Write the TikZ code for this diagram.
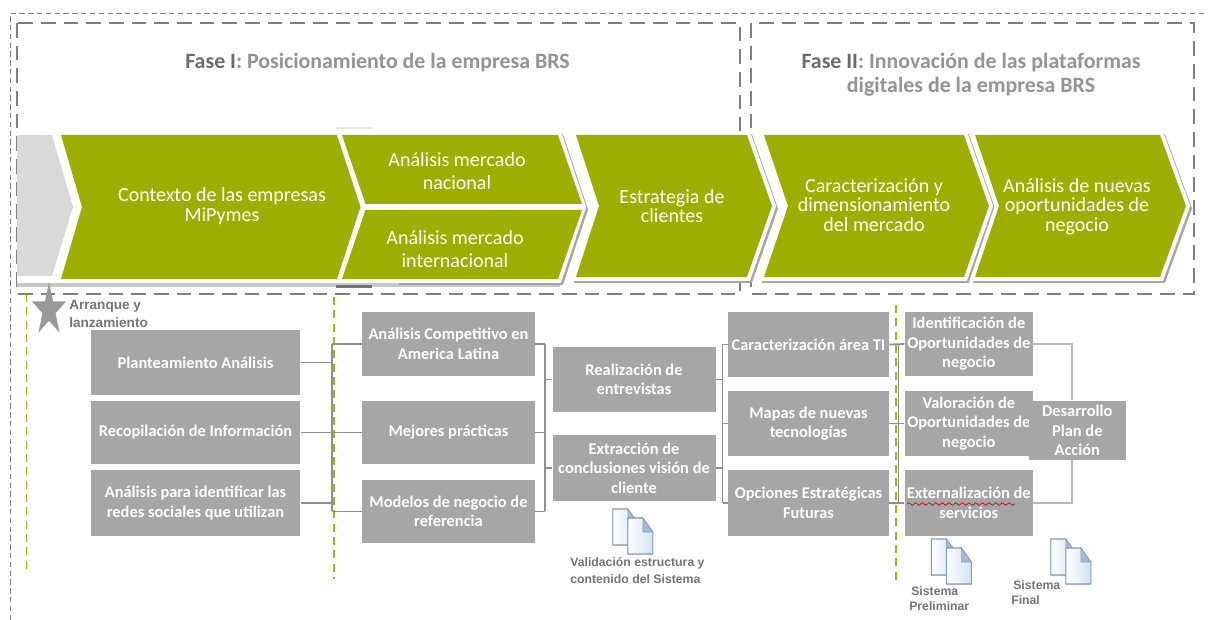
\documentclass[tikz,border=0pt]{standalone}
\usepackage{fontspec}
\setmainfont{Carlito}
\newfontfamily\lblfont{Liberation Sans}
\usetikzlibrary{decorations.pathmorphing,calc}
\definecolor{chevgreen}{HTML}{9CAF00}
\definecolor{boxgray}{HTML}{A6A6A6}
\definecolor{dashgreen}{HTML}{A3B50F}
\definecolor{linegray}{HTML}{8F8F8F}
\definecolor{phasegray}{HTML}{7F7F7F}
\definecolor{headdark}{HTML}{6B6B6B}
\definecolor{headlight}{HTML}{949494}
\definecolor{docedge}{HTML}{7F9BC4}
\definecolor{docfill}{HTML}{D5E2F2}
\definecolor{lblgray}{HTML}{757575}
\tikzset{
  chevtext/.style={text=white,align=center,inner sep=0pt,font=\fontsize{15}{14.6}\selectfont},
  graybox/.style={fill=boxgray,text=white,align=center,inner sep=0pt,font=\fontsize{12.3}{14.6}\selectfont\bfseries},
  head/.style={align=center,inner sep=0pt,text=headlight,font=\fontsize{16.4}{18}\selectfont\bfseries},
  smalllabel/.style={inner sep=0pt,anchor=west,text=lblgray,font=\lblfont\fontsize{9.2}{10}\selectfont\bfseries},
  conn/.style={draw=linegray,line width=1.3pt},
  connlight/.style={draw=black!28,line width=1.5pt},
  milestone/.style={draw=dashgreen,line width=1.4pt,dash pattern=on 6pt off 4pt},
  phasebox/.style={draw=phasegray,line width=0.8pt,dash pattern=on 11pt off 6pt},
  pagesheet/.style={draw=docedge,line width=0.8pt,left color=white,right color=docfill},
}
\newcommand{\chevshape}[7]{(#1,#5)--(#2,#5)--(#3,#7)--(#2,#6)--(#1,#6)--(#4,#7)--cycle}
\newcommand{\chevshadow}[7]{\fill[black!35,draw=black!35,line width=5pt,line join=miter] [shift={(2.5,2.5)}] \chevshape{#1}{#2}{#3}{#4}{#5}{#6}{#7};}
\newcommand{\chevwhite}[7]{\fill[white,draw=white,line width=6pt,line join=miter] \chevshape{#1}{#2}{#3}{#4}{#5}{#6}{#7};}
\newcommand{\chevfront}[7]{\fill[chevgreen] \chevshape{#1}{#2}{#3}{#4}{#5}{#6}{#7};}
\newcommand{\docpage}[2]{%
  \filldraw[pagesheet] (#1,#2)--(#1+15,#2)--(#1+25,#2+14)--(#1+25,#2+36)--(#1,#2+36)--cycle;
  \filldraw[draw=docedge,fill=docedge!70,line width=0.4pt] (#1+15,#2)--(#1+25,#2+14)--(#1+15,#2+14)--cycle;}
\newcommand{\docpair}[2]{\docpage{#1}{#2}\docpage{#1+15}{#2+9}}
\begin{document}
\begin{tikzpicture}[x=0.75pt,y=-0.75pt]
\useasboundingbox (0,0) rectangle (1208,620);
\fill[white] (0,0) rectangle (1208,620);

% outer thin dashes
\draw[phasegray,line width=0.7pt,dash pattern=on 4pt off 2.6pt] (10.5,620)--(10.5,13)--(1208,13);
% phase frames
\draw[phasebox] (17,23) rectangle (740,294);
\draw[phasebox] (751,23) rectangle (1194,294);

\node[head] (fase1) at (377.5,62.5) {\textcolor{headdark}{Fase I}: Posicionamiento de la empresa BRS};
\node[head] (fase2) at (971,75) {\textcolor{headdark}{Fase II}: Innovación de las plataformas\\digitales de la empresa BRS};

% chevrons
\fill[white] (17,128) rectangle (575,290);
\fill[black!22] (17,283) rectangle (560,287);
\fill[black!55] (336,285) rectangle (372,288);
\fill[black!10] (336,127) rectangle (372,129);
\fill[black!15] (17,135) -- (52,135) -- (73,207) -- (52,276) -- (17,276) -- cycle;
\fill[black!35,draw=black!35,line width=5pt,line join=miter] [shift={(2.5,2.5)}] (400,135)--(558,135)--(582,207)--(558,279)--(400,279)--cycle;
\chevwhite{61}{337}{360.5}{82}{135}{279}{207}
\fill[white,draw=white,line width=6pt] (342,135)--(558,135)--(582,207)--(558,279)--(342,279)--(365.5,207)--cycle;
\chevshadow{576}{747}{772}{599}{135}{277}{206}
\chevwhite{576}{747}{772}{599}{135}{277}{206}
\chevshadow{764}{964}{989}{788}{135}{277}{206}
\chevwhite{764}{964}{989}{788}{135}{277}{206}
\chevshadow{975}{1160}{1186}{999}{135}{277}{206}
\chevwhite{975}{1160}{1186}{999}{135}{277}{206}
\chevfront{61}{337}{360.5}{82}{135}{279}{207}
\fill[chevgreen] (342,135)--(558,135)--(582,204)--(365.5,204)--cycle;
\fill[chevgreen] (365.5,210)--(582,210)--(558,279)--(342,279)--cycle;
\chevfront{576}{747}{772}{599}{135}{277}{206}
\chevfront{764}{964}{989}{788}{135}{277}{206}
\chevfront{975}{1160}{1186}{999}{135}{277}{206}

\node[chevtext] (cctx) at (222,206) {Contexto de las empresas\\MiPymes};
\node[chevtext,font=\fontsize{15}{17.2}\selectfont] (cnac) at (457,171.5) {Análisis mercado\\nacional};
\node[chevtext,font=\fontsize{15}{17.2}\selectfont] (cint) at (455,249) {Análisis mercado\\internacional};
\node[chevtext] (cest) at (672,206) {Estrategia de\\clientes};
\node[chevtext] (ccar) at (874,205) {Caracterización y\\dimensionamiento\\del mercado};
\node[chevtext] (cnue) at (1077,206.5) {Análisis de nuevas\\oportunidades de\\negocio};

% milestones
\coordinate (m1a) at (26.5,294); \coordinate (m1b) at (26.5,573);
\coordinate (m2a) at (334,297); \coordinate (m2b) at (334,579);
\coordinate (m3a) at (896,305); \coordinate (m3b) at (896,585);
\draw[milestone] (m1a)--(m1b);
\draw[milestone] (m2a)--(m2b);
\draw[milestone] (m3a)--(m3b);

% star
\fill[black!40] (49,282)--(53,301.3)--(66.1,301.3)--(55.5,313.3)--(59.6,332.7)--(49,320.7)--(38.4,332.7)--(42.5,313.3)--(31.9,301.3)--(45,301.3)--cycle;
\node[smalllabel,font=\lblfont\fontsize{10.2}{11}\selectfont\bfseries] (arr1) at (69,306) {Arranque y};
\node[smalllabel,font=\lblfont\fontsize{10.2}{11}\selectfont\bfseries] (arr2) at (69,323) {lanzamiento};

% boxes
\node[graybox,minimum width=157.3pt,minimum height=48.75pt] (a1) at (195.5,362.5) {Planteamiento Análisis};
\node[graybox,minimum width=157.3pt,minimum height=47.25pt] (a2) at (195.5,432.5) {Recopilación de Información};
\node[graybox,minimum width=157.3pt,minimum height=48.75pt] (a3) at (195.5,503) {Análisis para identificar las\\redes sociales que utilizan};
\node[graybox,minimum width=129.75pt,minimum height=48pt] (b1) at (448.5,344) {Análisis Competitivo en\\America Latina};
\node[graybox,minimum width=129.75pt,minimum height=47.25pt] (b2) at (448.5,432.5) {Mejores prácticas};
\node[graybox,minimum width=129.75pt,minimum height=47.25pt] (b3) at (448.5,511.5) {Modelos de negocio de\\referencia};
\node[graybox,minimum width=122.25pt,minimum height=48.75pt] (c1) at (634,379.5) {Realización de\\entrevistas};
\node[graybox,minimum width=122.25pt,minimum height=49pt] (c2) at (634,468) {Extracción de\\conclusiones visión de\\cliente};
\node[graybox,minimum width=120.75pt,minimum height=48.75pt] (d1) at (808.5,344.5) {Caracterización área TI};
\node[graybox,minimum width=120.75pt,minimum height=48.75pt] (d2) at (808.5,423.5) {Mapas de nuevas\\tecnologías};
\node[graybox,minimum width=120.75pt,minimum height=48.75pt] (d3) at (808.5,503) {Opciones Estratégicas\\Futuras};
\node[graybox,minimum width=96.3pt,minimum height=48pt] (e1) at (968.8,344) {Identificación de\\Oportunidades de\\negocio};
\node[graybox,minimum width=96.3pt,minimum height=48.75pt] (e2) at (968.8,423.5) {Valoración de\\Oportunidades de\\negocio};
\node[graybox,minimum width=96.3pt,minimum height=48.75pt] (e3) at (968.8,503) {Externalización de\\servicios};
\node[graybox,minimum width=72.5pt,minimum height=44.5pt] (f1) at (1077.3,430.4) {Desarrollo\\Plan de\\Acción};

% connectors
\coordinate (t1) at (332,0);
\coordinate (t2) at (545,0);
\coordinate (t3) at (722.5,0);
\coordinate (t4) at (898.4,0);
\coordinate (t5) at (1072,0);
\draw[conn] (b1.west -| t1)--(b3.west -| t1);
\draw[conn] (a1.east)--(a1.east -| t1);
\draw[conn] (a2.east)--(a2.east -| t1);
\draw[conn] (a3.east)--(a3.east -| t1);
\draw[conn] (b1.west -| t1)--(b1.west);
\draw[conn] (b2.west -| t1)--(b2.west);
\draw[conn] (b3.west -| t1)--(b3.west);
\draw[conn] (b1.east -| t2)--(b3.east -| t2);
\draw[conn] (b1.east)--(b1.east -| t2);
\draw[conn] (b2.east)--(b2.east -| t2);
\draw[conn] (b3.east)--(b3.east -| t2);
\draw[conn] (c1.west -| t2)--(c1.west);
\draw[conn] (c2.west -| t2)--(c2.west);
\draw[conn] (d1.west -| t3)--(d3.west -| t3);
\draw[conn] (c1.east)--(c1.east -| t3);
\draw[conn] (c2.east)--(c2.east -| t3);
\draw[conn] (d1.west -| t3)--(d1.west);
\draw[conn] (d2.west -| t3)--(d2.west);
\draw[conn] (d3.west -| t3)--(d3.west);
\draw[conn] (d1.east -| t4)--(d3.east -| t4);
\draw[conn] (d1.east)--(e1.west);
\draw[conn] (d2.east)--(e2.west);
\draw[conn] (d3.east)--(e3.west);
\draw[connlight] (e1.east)-|(f1.north -| t5);
\draw[connlight] (e3.east)-|(f1.south -| t5);

% spell-check underline
\coordinate (w1) at (907,504);
\coordinate (w2) at (1015,504);
\draw[red!80!black,line width=0.5pt,decorate,decoration={snake,amplitude=1pt,segment length=5pt}] (w1)--(w2);

% documents
\docpair{612.8}{509}
\docpair{931.4}{539}
\docpair{1050.8}{539}

\node[smalllabel] (v1) at (570,563) {Validación estructura y};
\node[smalllabel] (v2) at (570,579) {contenido del  Sistema};
\node[smalllabel] (s1) at (911,591) {Sistema};
\node[smalllabel] (s2) at (909,606) {Preliminar};
\node[smalllabel] (s3) at (1013,585) {Sistema};
\node[smalllabel] (s4) at (1011,600) {Final};
\end{tikzpicture}
\end{document}
